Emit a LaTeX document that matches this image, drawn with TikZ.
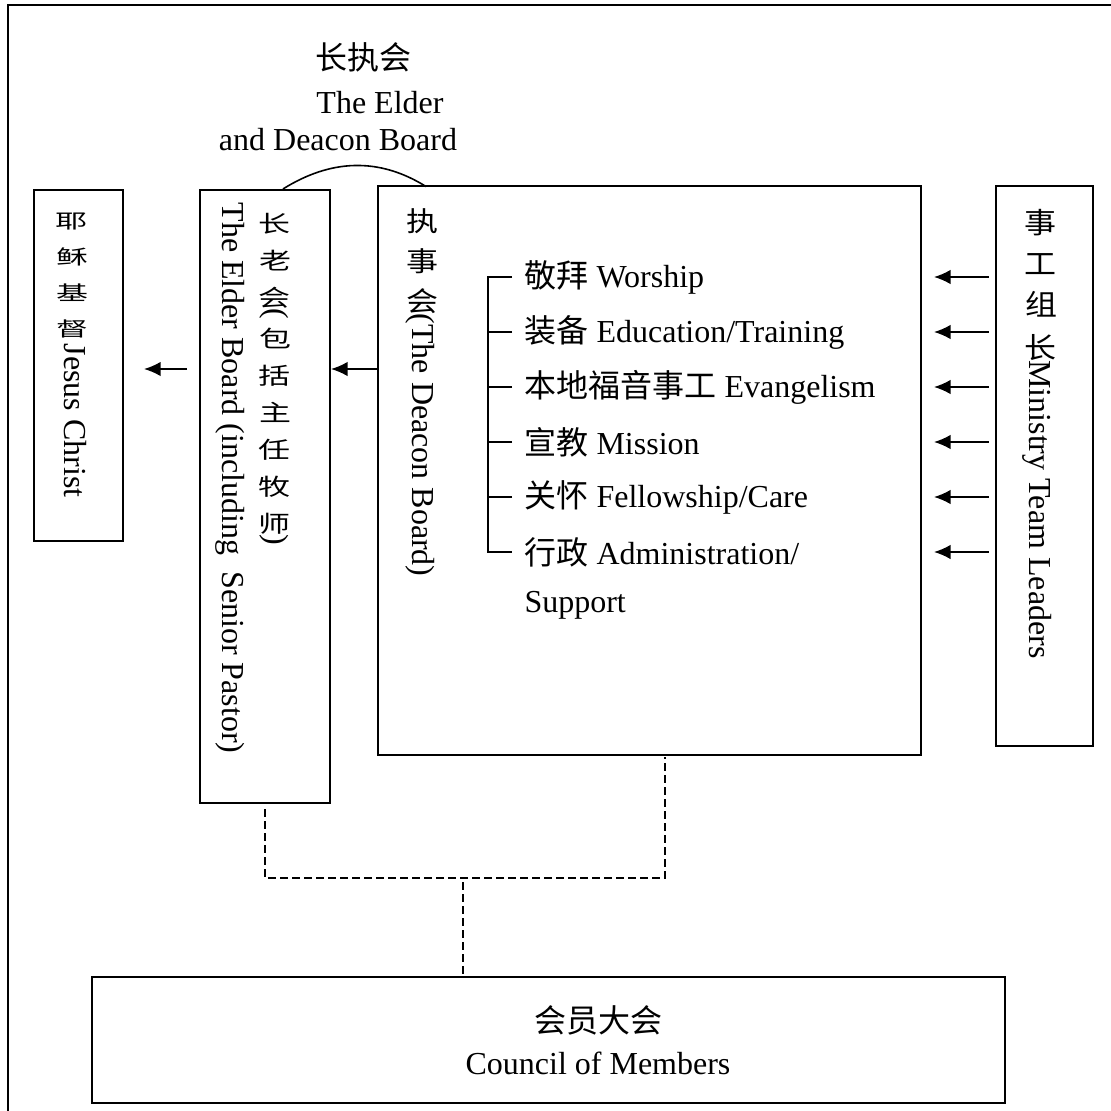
\documentclass[tikz,border=0pt]{standalone}
\usepackage{fontspec}
\setmainfont{Liberation Serif}
\newfontfamily\cjk{Noto Sans CJK SC}
\usepackage{graphicx}
\usetikzlibrary{arrows.meta,positioning}
\newcommand\vc[2][1]{\rotatebox[origin=c]{90}{\scalebox{1}[#1]{\cjk #2}}}

\begin{document}
\begin{tikzpicture}[x=0.375pt,y=-0.375pt,>={Latex[length=6.2pt,width=5.4pt]},
  kasten/.style={draw,line width=0.75pt,inner sep=0pt},
  vtext/.style={rotate=-90,anchor=west,inner sep=0pt,font=\fontsize{12}{14}\selectfont},
  txt/.style={inner sep=0pt,font=\fontsize{12}{14}\selectfont},
  eintrag/.style={anchor=west,inner xsep=4.5pt,inner ysep=0pt,font=\fontsize{12}{14}\selectfont},
  pfeil/.style={->,line width=0.6pt},
  strich/.style={dash pattern=on 3pt off 1.5pt,line width=0.6pt}]

\useasboundingbox (0,0) rectangle (1111,1111);

%Rahmen
\draw[line width=0.8pt] (8,1111) -- (8,5) -- (1111,5);

%Titel
\node[txt] (titel) at (363,57) {\cjk 长执会};
\node[txt] (titel2) at (380,103) {The Elder};
\node[txt] (titel3) at (338,140) {and Deacon Board};

%Kaesten
\node[kasten,minimum width=33.4pt,minimum height=131.6pt] (jesus) at (78.5,365.5) {};
\node[kasten,minimum width=48.75pt,minimum height=229.9pt] (elder) at (265,496.5) {};
\node[kasten,minimum width=203.6pt,minimum height=213.4pt] (deacon) at (649.5,470.5) {};
\node[kasten,minimum width=36.4pt,minimum height=210pt] (ministry) at (1044.5,466) {};
\node[kasten,minimum width=342.4pt,minimum height=47.25pt] (council) at (548.5,1040) {};

%Senkrechte Texte
\node[vtext] (jtext) at (72,212) {\vc[.62]{耶}\hspace{6.8pt}\vc[.62]{稣}\hspace{6.8pt}\vc[.62]{基}\hspace{6.8pt}\vc[.62]{督}\hspace{2pt}Jesus Christ};
\node[vtext] (etext) at (275,213) {\vc[.72]{长}\hspace{6pt}\vc[.72]{老}\hspace{6pt}\vc[.72]{会}(\hspace{3.5pt}\vc[.72]{包}\hspace{6pt}\vc[.72]{括}\hspace{6pt}\vc[.72]{主}\hspace{6pt}\vc[.72]{任}\hspace{6pt}\vc[.72]{牧}\hspace{6pt}\vc[.72]{师})};
\node[vtext] (etext2) at (230,202) {The Elder Board (including~ Senior Pastor)};
\node[vtext] (dtext) at (422,208) {\vc[.85]{执}\hspace{5.6pt}\vc[.85]{事}\hspace{5.6pt}\vc[.85]{会}(The Deacon Board)};
\node[vtext] (mtext) at (1040,209) {\vc[.9]{事}\hspace{6.4pt}\vc[.9]{工}\hspace{6.4pt}\vc[.9]{组}\hspace{6.4pt}\vc[.9]{长}Ministry Team Leaders};

%Liste
\foreach \t [count=\i] in {{\cjk 敬拜} Worship,{\cjk 装备} Education/Training,{\cjk 本地福音事工} Evangelism,{\cjk 宣教} Mission,{\cjk 关怀} Fellowship/Care,{\cjk 行政} Administration/}
  \node[eintrag] (item\i) at (512,{222+55*\i}) {\t};
\node[eintrag] (support) at ([yshift=-19.9pt]item6.west) {Support};
\draw[line width=0.6pt] (item1.west) -- ++(-24,0) |- (item6.west);
\foreach \i in {2,...,5}
  \draw[line width=0.6pt] (item\i.west) -- ++(-24,0);

%Bogen
\coordinate (bogenA) at ([xshift=6.75pt]elder.north);
\coordinate (bogenB) at ([xshift=18.4pt,yshift=-0.6pt]deacon.north west);
\draw[line width=0.6pt] (bogenA) to[out=32,in=148] (bogenB);

%Pfeile
\coordinate (hoehe) at (0,369);
\draw[pfeil] (deacon.west |- hoehe) -- (elder.east |- hoehe);
\draw[pfeil,shorten <=4.5pt,shorten >=7.5pt] (elder.west |- hoehe) -- (jesus.east |- hoehe);
\foreach \i in {1,...,6}
  \draw[pfeil,shorten <=2.25pt,shorten >=4.5pt] (ministry.west |- item\i) -- (deacon.east |- item\i);

%Verbindungen
\coordinate (mitte) at (463,878);
\draw[strich] ([yshift=-1.9pt]elder.south) |- (mitte) -| ([xshift=5.8pt,yshift=-0.5pt]deacon.south);
\draw[strich] ([yshift=-1.5pt]mitte) -- (council.north -| mitte);

%Versammlung
\node[txt] (rat) at (598,1020) {\cjk 会员大会};
\node[txt] (rat2) at (598,1063) {Council of Members};

\end{tikzpicture}
\end{document}
